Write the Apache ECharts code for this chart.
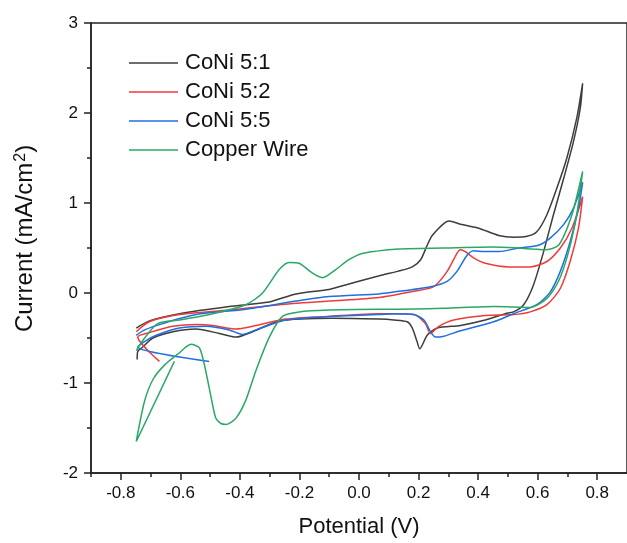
<!DOCTYPE html>
<html>
<head>
<meta charset="utf-8">
<script src="https://cdn.jsdelivr.net/npm/echarts@6/dist/echarts.min.js"></script>
<style>
  html, body { margin: 0; padding: 0; background: #fff; }
  #chart { width: 627px; height: 543px; }
</style>
</head>
<body>
<div id="chart"></div>
<script>
// tick labels
var xTicks = [-0.8, -0.6, -0.4, -0.2, 0.0, 0.2, 0.4, 0.6, 0.8]
var xMinorTicks = [-0.9, -0.7, -0.5, -0.3, -0.1, 0.1, 0.3, 0.5, 0.7]
var yTicks = [-2, -1, 0, 1, 2, 3]

var names = ['CoNi 5:1', 'CoNi 5:2', 'CoNi 5:5', 'Copper Wire']

// potential (V), current (mA/cm2), in scan order
var coNi51 = [
  [-0.748, -0.39], [-0.704, -0.31], [-0.603, -0.23], [-0.436, -0.15], [-0.302, -0.10],
  [-0.212, -0.01], [-0.101, 0.04], [-0.067, 0.07], [0.078, 0.20], [0.13, 0.24],
  [0.179, 0.29], [0.207, 0.37], [0.229, 0.53], [0.246, 0.64], [0.302, 0.80],
  [0.346, 0.76], [0.402, 0.72], [0.469, 0.64], [0.519, 0.62], [0.564, 0.63],
  [0.597, 0.68], [0.631, 0.87], [0.664, 1.16], [0.698, 1.50], [0.731, 1.94],
  [0.751, 2.33],
  [0.743, 2.05], [0.720, 1.68], [0.687, 1.27], [0.653, 0.87], [0.620, 0.46],
  [0.586, 0.09], [0.553, -0.13], [0.519, -0.21], [0.491, -0.23], [0.424, -0.30],
  [0.341, -0.36], [0.262, -0.39], [0.229, -0.47], [0.204, -0.62], [0.195, -0.54],
  [0.179, -0.39], [0.162, -0.32], [0.117, -0.30], [0.067, -0.29], [-0.089, -0.28],
  [-0.268, -0.31], [-0.357, -0.43], [-0.413, -0.49], [-0.469, -0.45], [-0.547, -0.40],
  [-0.625, -0.43], [-0.692, -0.50], [-0.726, -0.60], [-0.743, -0.65], [-0.745, -0.74]
]
var coNi52 = [
  [-0.748, -0.43], [-0.704, -0.32], [-0.603, -0.24], [-0.436, -0.19], [-0.268, -0.13],
  [-0.101, -0.09], [0.067, -0.05], [0.184, 0.02], [0.251, 0.07], [0.296, 0.24],
  [0.329, 0.44], [0.341, 0.48], [0.357, 0.46], [0.385, 0.39], [0.424, 0.33],
  [0.503, 0.29], [0.575, 0.29], [0.631, 0.35], [0.676, 0.50], [0.715, 0.72],
  [0.751, 1.07],
  [0.737, 0.72], [0.709, 0.35], [0.676, 0.05], [0.631, -0.13], [0.575, -0.21],
  [0.519, -0.24], [0.424, -0.25], [0.318, -0.30], [0.268, -0.37], [0.240, -0.45],
  [0.223, -0.34], [0.184, -0.24], [0.117, -0.23], [0.067, -0.23], [-0.101, -0.26],
  [-0.246, -0.29], [-0.357, -0.37], [-0.413, -0.40], [-0.491, -0.36], [-0.547, -0.35],
  [-0.625, -0.37], [-0.704, -0.44], [-0.743, -0.49], [-0.670, -0.76]
]
var coNi55 = [
  [-0.748, -0.47], [-0.720, -0.41], [-0.659, -0.34], [-0.547, -0.24], [-0.380, -0.18],
  [-0.212, -0.09], [-0.101, -0.04], [0.067, -0.01], [0.117, 0.01], [0.240, 0.07],
  [0.296, 0.13], [0.329, 0.24], [0.363, 0.42], [0.385, 0.47], [0.419, 0.46],
  [0.469, 0.46], [0.536, 0.50], [0.603, 0.53], [0.642, 0.61], [0.687, 0.76],
  [0.720, 0.94], [0.751, 1.23],
  [0.737, 0.94], [0.709, 0.57], [0.676, 0.24], [0.642, 0.01], [0.597, -0.13],
  [0.519, -0.23], [0.452, -0.32], [0.341, -0.42], [0.285, -0.48], [0.257, -0.49],
  [0.240, -0.43], [0.218, -0.30], [0.184, -0.24], [0.117, -0.23], [0.067, -0.24],
  [-0.101, -0.26], [-0.246, -0.30], [-0.346, -0.41], [-0.391, -0.46], [-0.436, -0.41],
  [-0.514, -0.37], [-0.603, -0.39], [-0.681, -0.47], [-0.715, -0.53], [-0.743, -0.60],
  [-0.503, -0.76]
]
var copperWire = [
  [-0.748, -0.64], [-0.720, -0.50], [-0.676, -0.34], [-0.603, -0.30], [-0.491, -0.23],
  [-0.380, -0.13], [-0.324, 0.00], [-0.268, 0.26], [-0.235, 0.34], [-0.201, 0.33],
  [-0.156, 0.22], [-0.123, 0.17], [-0.078, 0.26], [-0.034, 0.37], [0.011, 0.44],
  [0.134, 0.49], [0.285, 0.50], [0.452, 0.51], [0.581, 0.49], [0.625, 0.48],
  [0.670, 0.53], [0.715, 0.87], [0.751, 1.35],
  [0.731, 0.87], [0.704, 0.46], [0.670, 0.13], [0.631, -0.06], [0.575, -0.16],
  [0.452, -0.15], [0.285, -0.17], [0.117, -0.18], [0.067, -0.18], [-0.101, -0.19],
  [-0.201, -0.21], [-0.257, -0.26], [-0.301, -0.49], [-0.346, -0.86], [-0.380, -1.19],
  [-0.413, -1.39], [-0.446, -1.46], [-0.464, -1.45], [-0.481, -1.39], [-0.496, -1.17],
  [-0.519, -0.80], [-0.536, -0.61], [-0.564, -0.57], [-0.609, -0.68], [-0.650, -0.79],
  [-0.690, -0.95], [-0.720, -1.20], [-0.748, -1.65], [-0.620, -0.76]
]

var colors = ['#3d3d3d', '#f03a3a', '#1f6fe0', '#2ba865']
var seriesData = [coNi51, coNi52, coNi55, copperWire]

var chart = echarts.init(document.getElementById('chart'), null, { renderer: 'canvas' })

var font = 'Liberation Sans, Arial, sans-serif'

chart.setOption({
  animation: false,
  color: colors,
  textStyle: { fontFamily: font },
  grid: {
    left: 91,
    top: 23,
    width: 537.5,
    height: 450,
    show: true,
    borderColor: '#222',
    borderWidth: 1.5
  },
  legend: {
    data: names,
    orient: 'vertical',
    left: 129,
    top: 52,
    padding: 0,
    itemGap: 7,
    itemWidth: 49,
    itemHeight: 1.5,
    icon: 'rect',
    textStyle: { fontSize: 22, lineHeight: 22, color: '#111', fontFamily: font, padding: [0, 0, 0, 2] }
  },
  xAxis: [
    {
      type: 'value',
      min: -0.9,
      max: 0.9,
      name: 'Potential (V)',
      nameLocation: 'middle',
      nameGap: 43,
      nameTextStyle: { fontSize: 22, color: '#111', fontFamily: font },
      axisLine: { onZero: false, lineStyle: { color: '#222', width: 1.5 } },
      axisTick: { customValues: xTicks, length: 7, inside: false, lineStyle: { color: '#222', width: 1.5 } },
      axisLabel: {
        customValues: xTicks,
        fontSize: 17,
        color: '#111',
        margin: 12,
        formatter: function (v) { return v.toFixed(1) }
      },
      splitLine: { show: false }
    },
    {
      type: 'value',
      min: -0.9,
      max: 0.9,
      position: 'bottom',
      axisLine: { show: false, onZero: false },
      axisTick: { customValues: xMinorTicks, length: 4, lineStyle: { color: '#222', width: 1.5 } },
      axisLabel: { show: false },
      splitLine: { show: false }
    }
  ],
  yAxis: {
    type: 'value',
    min: -2,
    max: 3,
    interval: 1,
    name: 'Current (mA/cm{sup|2})',
    nameLocation: 'middle',
    nameGap: 54,
    nameTextStyle: {
      fontSize: 24,
      color: '#111',
      fontFamily: font,
      padding: [0, 0, 0, 19],
      rich: {
        sup: { fontSize: 16, verticalAlign: 'top', lineHeight: 24, padding: [0, 0, 10, 1], color: '#111', fontFamily: font }
      }
    },
    axisLine: { onZero: false, lineStyle: { color: '#222', width: 1.5 } },
    axisTick: { length: 7, lineStyle: { color: '#222', width: 1.5 } },
    minorTick: { show: true, splitNumber: 2, length: 4, lineStyle: { color: '#222', width: 1.5 } },
    axisLabel: { fontSize: 17, color: '#111', margin: 13 },
    splitLine: { show: false }
  },
  series: seriesData.map(function (d, i) {
    return {
      name: names[i],
      type: 'line',
      xAxisIndex: 0,
      data: d,
      symbol: 'none',
      smooth: 0.25,
      lineStyle: { color: colors[i], width: 1.5 },
      itemStyle: { color: colors[i] }
    }
  })
})
</script>
</body>
</html>
